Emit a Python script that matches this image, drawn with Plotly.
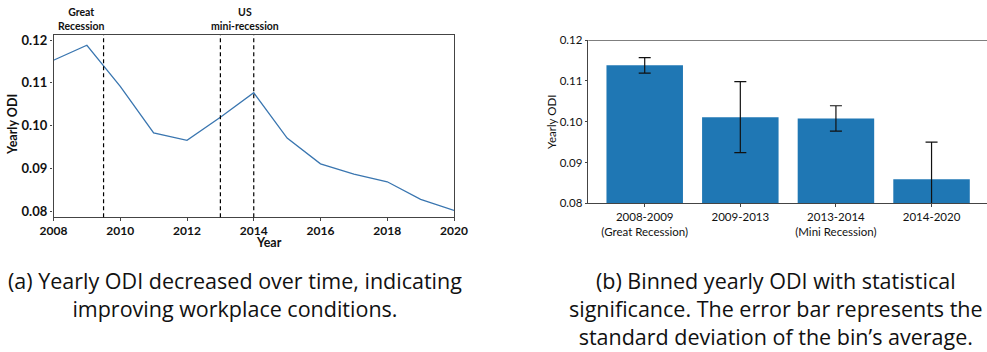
import plotly.graph_objects as go

# ---- data (a) ----
years = [2008, 2009, 2010, 2011, 2012, 2013, 2014, 2015, 2016, 2017, 2018, 2019, 2020]
yearly_odi = [0.1153, 0.1188, 0.1092, 0.0983, 0.0966, 0.1020, 0.1077, 0.0971, 0.0911, 0.0887, 0.0869, 0.0828, 0.0802]
event_lines = [2009.5, 2013, 2014]
event_labels = ["Great<br>Recession", "US<br>mini-recession"]
event_label_x = [2008.84, 2013.73]

# ---- data (b) ----
bins = ["2008-2009<br>(Great Recession)", "2009-2013", "2013-2014<br>(Mini Recession)", "2014-2020"]
bin_odi = [0.1138, 0.1011, 0.1008, 0.0859]
bin_std = [0.0019, 0.0087, 0.0031, 0.0091]

captions = [
    "(a) Yearly ODI decreased over time, indicating<br>improving workplace conditions.",
    "(b) Binned yearly ODI with statistical<br>significance. The error bar represents the<br>standard deviation of the bin’s average.",
]

W, H = 987, 352
def px_x(a, b):
    return [a / W, b / W]
def px_y(top, bottom):
    return [(H - bottom) / H, (H - top) / H]

fig = go.Figure()
fig.add_trace(go.Scatter(x=years, y=yearly_odi, mode="lines",
                         line=dict(color="#3a76b0", width=1.3),
                         xaxis="x", yaxis="y", showlegend=False))
fig.add_trace(go.Bar(x=list(range(len(bins))), y=bin_odi, width=0.8,
                     marker=dict(color="#1f77b4", line=dict(width=0)),
                     error_y=dict(type="data", array=bin_std, visible=True,
                                  color="#111111", thickness=1.2, width=6),
                     xaxis="x2", yaxis="y2", showlegend=False))

for xv in event_lines:
    fig.add_shape(type="line", xref="x", yref="y domain", x0=xv, x1=xv, y0=0, y1=1,
                  line=dict(color="black", width=1.2, dash="4px,3px"))

# top spine for (b)
fig.add_shape(type="line", xref="x2 domain", yref="y2", x0=0, x1=1, y0=0.12, y1=0.12,
              line=dict(color="black", width=1.2))

for t, xv in zip(event_labels, event_label_x):
    fig.add_annotation(text="<b>" + t + "</b>", x=xv, xref="x", y=(H - 19) / H, yref="paper",
                       showarrow=False, font=dict(family="Lato", size=10.5, color="#111"),
                       align="center", yanchor="middle")

# axis titles as annotations
fig.add_annotation(text="<b>Year</b>", x=253.5 / W, y=(H - 242) / H, xref="paper", yref="paper",
                   showarrow=False, font=dict(family="Lato", size=12.5, color="#111"), yanchor="middle")
fig.add_annotation(text="<b>Yearly ODI</b>", x=12 / W, y=(H - 125) / H, xref="paper", yref="paper",
                   showarrow=False, textangle=-90, font=dict(family="Lato", size=12.5, color="#111"),
                   xanchor="center", yanchor="middle")
fig.add_annotation(text="Yearly ODI", x=552 / W, y=(H - 122) / H, xref="paper", yref="paper",
                   showarrow=False, textangle=-90, font=dict(family="Lato", size=11.5, color="#111"),
                   xanchor="center", yanchor="middle")

cap_font = dict(family="Open Sans", size=21.5, color="#111")
fig.add_annotation(text=captions[0], x=235 / W, y=(H - 264) / H, xref="paper", yref="paper",
                   showarrow=False, font=cap_font, align="center", xanchor="center", yanchor="top")
fig.add_annotation(text=captions[1], x=776 / W, y=(H - 264) / H, xref="paper", yref="paper",
                   showarrow=False, font=cap_font, align="center", xanchor="center", yanchor="top")

axis_line = dict(showline=True, linecolor="#444", linewidth=1.2, ticks="outside",
                 tickcolor="#444", ticklen=2.5, showgrid=False, zeroline=False, automargin=False)

fig.update_layout(
    width=W, height=H, margin=dict(l=0, r=0, t=0, b=0, autoexpand=False),
    paper_bgcolor="white", plot_bgcolor="white",
    font=dict(family="Lato", color="#111"),
    xaxis=dict(domain=px_x(53.5, 454), range=[2008, 2020], tickvals=[2008, 2010, 2012, 2014, 2016, 2018, 2020],
               mirror=True, tickfont=dict(size=12, family="Lato", weight="bold"), anchor="y", **axis_line),
    yaxis=dict(domain=px_y(35, 217.3), range=[0.0786, 0.1212], tickvals=[0.08, 0.09, 0.10, 0.11, 0.12],
               tickformat=".2f", mirror=True, tickfont=dict(size=13, family="Lato", weight="bold"),
               anchor="x", **axis_line),
    xaxis2=dict(domain=[588.3 / W, 1.0], range=[-0.59, 3.58], tickvals=list(range(len(bins))),
                ticktext=bins, tickfont=dict(size=11.5), anchor="y2", **axis_line),
    yaxis2=dict(domain=px_y(40, 203.3), range=[0.08, 0.12], tickvals=[0.08, 0.09, 0.10, 0.11, 0.12],
                tickformat=".2f", tickfont=dict(size=11.5), anchor="x2", **axis_line),
)

fig.write_html("out.html", config={"displayModeBar": False},
               post_script="document.body.style.margin='0';document.body.style.padding='0';")
